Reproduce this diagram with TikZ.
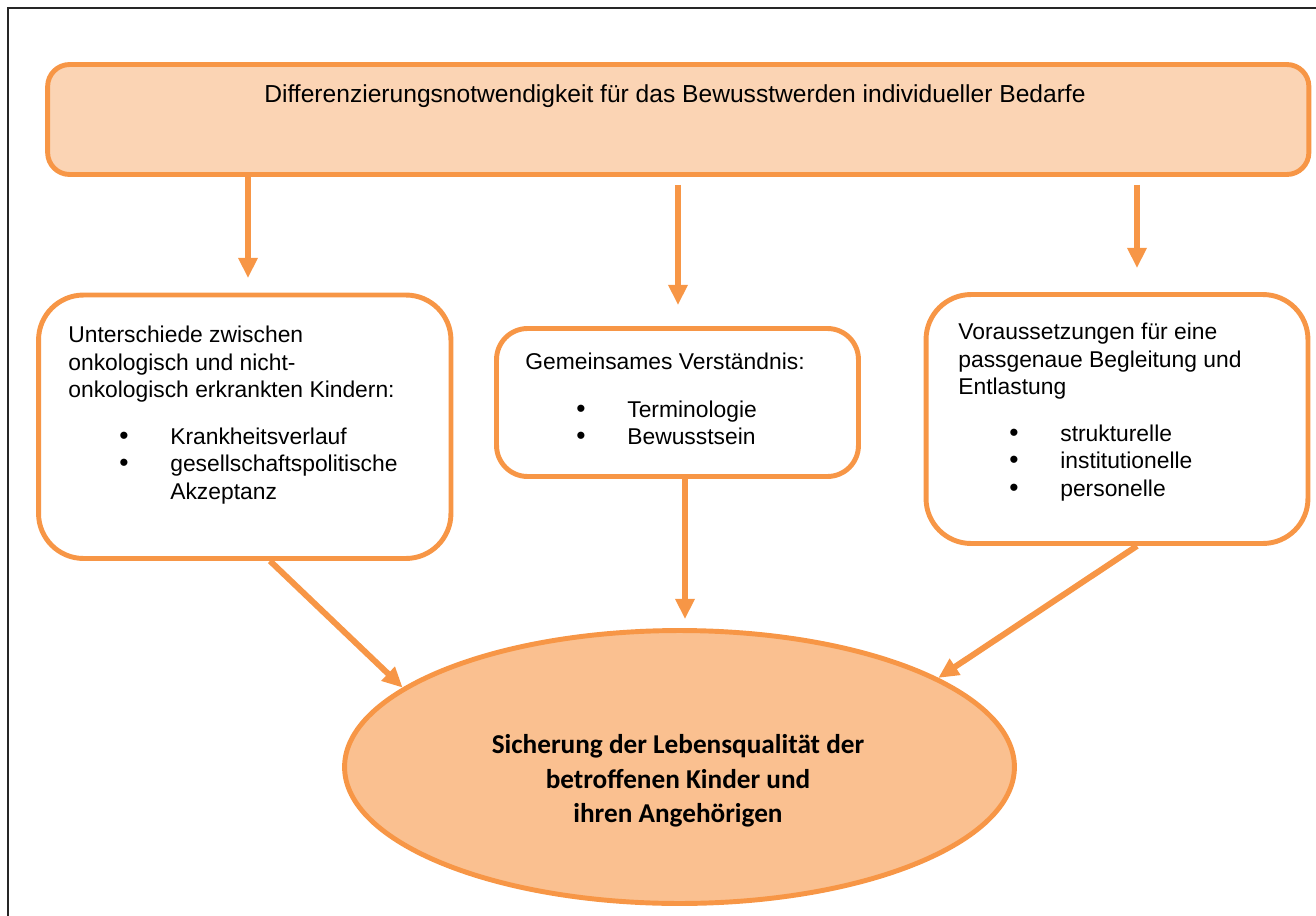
\documentclass[tikz,border=0pt]{standalone}
\usepackage{fontspec}
\setmainfont{Liberation Sans}
\newfontfamily\goalfont{Carlito}
\usetikzlibrary{arrows.meta}
\usetikzlibrary{shapes.geometric}
\definecolor{boxorange}{HTML}{F79646}
\definecolor{toppeach}{HTML}{FBD4B4}
\definecolor{goalpeach}{HTML}{FAC090}
\newcommand{\bul}[1]{\hspace*{1.02cm}\makebox[1.02cm][l]{\fontsize{15}{15.5}\selectfont\textbullet}#1}

\begin{document}
\begin{tikzpicture}[x=0.02cm,y=-0.02cm,
  infobox/.style={draw=boxorange,line width=2.8pt,fill=white,rounded corners=0.9cm,inner sep=0pt},
  boxtext/.style={anchor=north west,align=left,inner sep=0pt,font=\fontsize{13}{15.5}\selectfont},
  flowarrow/.style={draw=boxorange,line width=3.4pt,-{Triangle[width=10.5pt,length=11.5pt]}}]

\useasboundingbox (0,0) rectangle (1316,916);
\draw[line width=1.2pt,black!85] (8,916) -- (8,8) -- (1316,8);

\node[infobox,fill=toppeach,rounded corners=0.44cm,minimum width=25.23cm,minimum height=2.2cm](top) at (678.25,119.5) {};

\node[infobox,minimum width=8.25cm,minimum height=5.27cm](lbox) at (244.75,426.75) {};

\node[infobox,rounded corners=0.62cm,minimum width=7.24cm,minimum height=2.96cm](mbox) at (677.5,402.5) {};

\node[infobox,minimum width=7.64cm,minimum height=4.98cm](rbox) at (1117,419) {};

\node[ellipse,draw=boxorange,line width=2.8pt,fill=goalpeach,inner sep=0pt,minimum width=13.4cm,minimum height=5.46cm](goal) at (679.5,767) {};

\node[anchor=base,inner sep=0pt,font=\fontsize{14}{17}\selectfont](toptext) at (675,102) {Differenzierungsnotwendigkeit für das Bewusstwerden individueller Bedarfe};

\node[boxtext](ltext) at (68,326) {Unterschiede zwischen\\onkologisch und nicht-\\onkologisch erkrankten Kindern:\\[0.4cm]\bul{Krankheitsverlauf}\\\bul{gesellschaftspolitische}\\\hspace*{2.04cm}Akzeptanz};

\node[boxtext](mtext) at (525,353) {Gemeinsames Verständnis:\\[0.4cm]\bul{Terminologie}\\\bul{Bewusstsein}};

\node[boxtext](rtext) at (958,323) {Voraussetzungen für eine\\passgenaue Begleitung und\\Entlastung\\[0.4cm]\bul{strukturelle}\\\bul{institutionelle}\\\bul{personelle}};

\node[align=center,inner sep=0pt,font=\goalfont\bfseries\fontsize{15.5}{19.5}\selectfont](goaltext) at (678,781) {Sicherung der Lebensqualität der\\betroffenen Kinder und\\ihren Angehörigen};

\foreach \to/\x/\s/\e in {lbox/248/0cm/0.29cm, mbox/678/0.16cm/0.42cm, rbox/1137/0.16cm/0.48cm}
{
    \coordinate (g) at (\x,0);
    \draw[flowarrow,shorten <=\s,shorten >=\e] (top.south -| g) -- (\to.north -| g);
}

\foreach \from/\x/\to in {lbox/270/goal.164, rbox/1137/goal.19}
{
    \coordinate (g) at (\x,0);
    \draw[flowarrow] (\from.south -| g) -- (\to);
}

\coordinate (mx) at (685,0);
\draw[flowarrow,shorten >=0.18cm] (mbox.south -| mx) -- (goal.north -| mx);

\end{tikzpicture}
\end{document}
